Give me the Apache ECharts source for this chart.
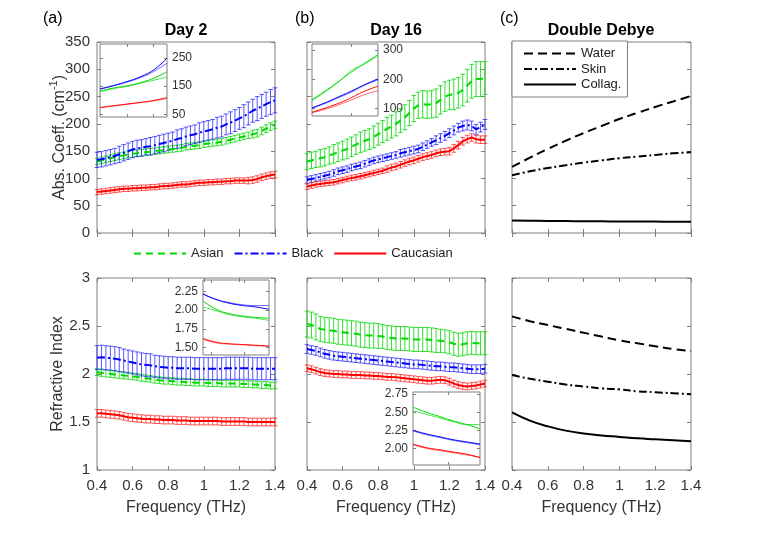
<!DOCTYPE html>
<html><head><meta charset="utf-8">
<script src="https://cdn.jsdelivr.net/npm/echarts@6/dist/echarts.min.js"></script>
<style>html,body{margin:0;padding:0;background:#fff}#c{width:778px;height:541px}</style>
</head><body><div id="c"></div>
<script>
// ---------- data ----------
const freq = [0.4,0.425,0.45,0.475,0.5,0.525,0.55,0.575,0.6,0.625,0.65,0.675,0.7,0.725,0.75,0.775,0.8,0.825,0.85,0.875,0.9,0.925,0.95,0.975,1.0,1.025,1.05,1.075,1.1,1.125,1.15,1.175,1.2,1.225,1.25,1.275,1.3,1.325,1.35,1.375,1.4];
const xTicks = [0.4,0.6,0.8,1,1.2,1.4];
const absTicks = [0,50,100,150,200,250,300,350];
const riTicks = [1,1.5,2,2.5,3];

// Day 2 absorption coefficient (cm^-1)
const d2AbsAsian = [131,133,135,137,139,141,142,144,145,146,147,148,149,150,151,152,153,154,155,156,158,159,160,161,163,164,165,166,167,169,171,173,175,177,179,181,183,187,191,195,198];
const d2AbsAsianErr = [6,6,6,6,6,6,6,6,6,6,6,6,6,6,6,6,6,6,6,6,6,6,6,6,6,6,6,6,6,6,6,6,6,6,6,7,7,7,7,7,7];
const d2AbsBlack = [134,135,137,139,141,144,147,150,153,155,156,158,159,161,163,165,167,169,172,174,177,179,181,184,186,188,190,193,195,199,202,206,210,214,219,224,228,232,236,240,243];
const d2AbsBlackErr = [14,14,14,14,14,15,15,15,15,15,15,15,16,16,16,16,16,16,17,17,17,17,17,18,18,18,18,19,19,19,20,20,20,21,21,21,22,22,22,23,23];
const d2AbsCauc = [75,76,77,78,79,80,81,81,82,82,83,83,84,84,85,86,86,87,88,89,89,90,91,92,92,93,93,94,94,95,95,96,96,96,96,97,99,102,104,106,107];
const d2AbsCaucErr = [5,5,5,5,5,5,5,5,5,5,5,5,5,5,5,5,5,5,5,5,5,5,5,5,5,5,5,5,5,5,5,5,5,5,6,6,6,6,6,6,6];

// Day 16 absorption coefficient (cm^-1)
const d16AbsAsian = [131,133,135,137,139,142,145,148,151,154,158,162,166,169,172,176,181,186,191,195,200,206,212,220,228,234,236,235,236,238,244,250,253,254,257,262,270,278,282,282,284];
const d16AbsAsianErr = [15,15,15,16,16,16,17,17,17,18,18,18,19,19,19,20,20,20,21,21,22,22,23,23,24,24,25,25,25,26,26,27,27,28,28,29,30,31,32,32,30];
const d16AbsBlack = [97,99,101,103,105,107,110,113,115,117,120,122,124,127,130,133,135,137,139,141,143,146,148,150,152,154,158,162,166,170,174,178,183,188,193,196,198,196,190,194,199];
const d16AbsBlackErr = [6,6,6,6,6,6,6,6,6,6,6,6,6,6,6,6,6,6,6,6,6,7,7,7,7,7,7,7,7,8,8,8,8,8,8,9,9,9,9,9,9];
const d16AbsCauc = [85,87,89,90,91,92,93,95,97,99,101,102,104,106,108,110,112,114,117,120,122,125,128,131,133,136,139,141,143,146,148,149,150,155,161,168,172,175,172,171,171];
const d16AbsCaucErr = [5,5,5,5,5,5,5,5,5,5,5,5,5,5,5,5,5,5,6,6,6,6,6,6,6,6,6,6,6,6,6,6,7,7,7,7,7,7,7,7,7];

// Day 2 refractive index
const d2RiAsian = [2.02,2.01,2.005,2.0,1.995,1.99,1.985,1.98,1.975,1.97,1.96,1.955,1.95,1.94,1.935,1.93,1.93,1.925,1.92,1.92,1.915,1.915,1.91,1.91,1.91,1.905,1.905,1.905,1.9,1.9,1.9,1.9,1.9,1.895,1.895,1.89,1.89,1.885,1.885,1.88,1.88];
const d2RiAsianErr = [0.035,0.035,0.035,0.035,0.035,0.035,0.035,0.035,0.035,0.035,0.035,0.035,0.035,0.035,0.035,0.035,0.035,0.035,0.035,0.035,0.035,0.035,0.035,0.035,0.035,0.035,0.035,0.035,0.035,0.035,0.035,0.035,0.035,0.035,0.035,0.035,0.035,0.035,0.035,0.035,0.035];
const d2RiBlack = [2.17,2.175,2.17,2.165,2.16,2.15,2.14,2.13,2.12,2.11,2.1,2.095,2.09,2.08,2.075,2.07,2.065,2.065,2.06,2.06,2.06,2.06,2.055,2.055,2.055,2.055,2.055,2.055,2.055,2.06,2.06,2.06,2.06,2.06,2.06,2.055,2.055,2.055,2.055,2.055,2.055];
const d2RiBlackErr = [0.125,0.125,0.125,0.125,0.125,0.125,0.12,0.12,0.12,0.12,0.12,0.12,0.12,0.115,0.115,0.115,0.115,0.115,0.115,0.115,0.115,0.115,0.115,0.115,0.115,0.115,0.115,0.115,0.115,0.115,0.115,0.115,0.115,0.115,0.115,0.115,0.115,0.115,0.115,0.115,0.115];
const d2RiCauc = [1.59,1.59,1.585,1.58,1.575,1.57,1.56,1.55,1.545,1.54,1.535,1.53,1.53,1.525,1.525,1.52,1.52,1.52,1.515,1.515,1.515,1.51,1.51,1.51,1.51,1.51,1.51,1.51,1.505,1.505,1.505,1.505,1.505,1.505,1.5,1.5,1.5,1.5,1.5,1.5,1.5];
const d2RiCaucErr = [0.04,0.04,0.04,0.04,0.04,0.04,0.04,0.04,0.04,0.04,0.04,0.04,0.04,0.04,0.04,0.04,0.04,0.04,0.04,0.04,0.04,0.04,0.04,0.04,0.04,0.04,0.04,0.04,0.04,0.04,0.04,0.04,0.04,0.04,0.04,0.04,0.04,0.04,0.04,0.04,0.04];

// Day 16 refractive index
const d16RiAsian = [2.52,2.51,2.49,2.47,2.46,2.455,2.45,2.44,2.435,2.43,2.425,2.42,2.41,2.405,2.4,2.4,2.395,2.39,2.38,2.375,2.37,2.37,2.37,2.365,2.36,2.36,2.36,2.36,2.355,2.35,2.345,2.34,2.33,2.315,2.305,2.31,2.32,2.325,2.32,2.32,2.32];
const d16RiAsianErr = [0.135,0.135,0.135,0.13,0.13,0.13,0.13,0.13,0.13,0.13,0.13,0.13,0.13,0.13,0.13,0.13,0.13,0.125,0.125,0.125,0.125,0.125,0.125,0.125,0.125,0.125,0.125,0.125,0.125,0.125,0.12,0.12,0.12,0.12,0.12,0.12,0.12,0.12,0.12,0.12,0.12];
const d16RiBlack = [2.26,2.25,2.24,2.225,2.21,2.2,2.19,2.185,2.18,2.175,2.17,2.165,2.16,2.155,2.15,2.145,2.14,2.135,2.13,2.125,2.12,2.115,2.11,2.105,2.1,2.1,2.095,2.09,2.085,2.08,2.08,2.075,2.07,2.07,2.065,2.06,2.055,2.05,2.05,2.05,2.055];
const d16RiBlackErr = [0.045,0.045,0.045,0.045,0.045,0.045,0.045,0.045,0.045,0.045,0.045,0.045,0.045,0.045,0.045,0.045,0.045,0.045,0.045,0.045,0.045,0.045,0.045,0.045,0.045,0.045,0.045,0.045,0.045,0.045,0.045,0.045,0.045,0.045,0.045,0.045,0.045,0.045,0.045,0.045,0.045];
const d16RiCauc = [2.06,2.05,2.035,2.02,2.01,2.005,2.0,2.0,1.995,1.995,1.99,1.99,1.99,1.985,1.985,1.98,1.98,1.975,1.97,1.97,1.965,1.96,1.955,1.95,1.945,1.94,1.935,1.93,1.93,1.935,1.94,1.935,1.92,1.9,1.885,1.875,1.87,1.875,1.88,1.89,1.9];
const d16RiCaucErr = [0.035,0.035,0.035,0.035,0.035,0.035,0.035,0.035,0.035,0.035,0.035,0.035,0.035,0.035,0.035,0.035,0.035,0.035,0.035,0.035,0.035,0.035,0.035,0.035,0.035,0.035,0.035,0.035,0.035,0.035,0.035,0.035,0.035,0.035,0.035,0.035,0.035,0.035,0.035,0.035,0.035];

// Double Debye model
const ddFreq = [0.4,0.5,0.6,0.7,0.8,0.9,1.0,1.1,1.2,1.3,1.4];
const ddAbsWater = [121,138,154,169,183,196,209,220,231,241,251];
const ddAbsSkin = [106,113,119,124,129,133,137,140,143,146,148];
const ddAbsCollag = [23,22.5,22,22,21.5,21.5,21,21,21,20.5,20.5];
const ddRiWater = [2.6,2.55,2.51,2.47,2.43,2.39,2.35,2.32,2.29,2.26,2.24];
const ddRiSkin = [1.99,1.95,1.92,1.89,1.87,1.85,1.84,1.82,1.81,1.8,1.79];
const ddRiCollag = [1.6,1.515,1.455,1.41,1.38,1.36,1.345,1.33,1.32,1.31,1.3];

// Insets (two repeated measurements per group)
const inFreq = [0.4,0.6,0.8,1.0,1.2,1.4];
const inD2AbsBlack1 = [140,152,166,183,208,249];
const inD2AbsBlack2 = [139,151,164,180,202,232];
const inD2AbsAsian1 = [132,143,151,162,178,201];
const inD2AbsAsian2 = [130,141,149,160,171,182];
const inD2AbsCauc1 = [74,80,86,92,99,109];
const inD2AbsCauc2 = [73,79,85,91,97,106];
const inD2AbsTicks = [50,150,250];

const inD16AbsAsian1 = [130,160,192,225,255,284];
const inD16AbsAsian2 = [127,157,190,230,252,280];
const inD16AbsBlack1 = [103,120,140,160,182,201];
const inD16AbsBlack2 = [101,118,137,157,180,198];
const inD16AbsCauc1 = [88,102,118,138,160,176];
const inD16AbsCauc2 = [86,98,113,130,148,161];
const inD16AbsTicks = [100,200,300];

const inD2RiBlack1 = [2.22,2.14,2.1,2.07,2.06,2.06];
const inD2RiBlack2 = [2.21,2.14,2.09,2.06,2.04,2.01];
const inD2RiAsian1 = [2.12,2.01,1.95,1.92,1.9,1.89];
const inD2RiAsian2 = [2.04,1.99,1.94,1.91,1.89,1.86];
const inD2RiCauc1 = [1.62,1.57,1.55,1.54,1.53,1.52];
const inD2RiCauc2 = [1.61,1.56,1.545,1.535,1.525,1.515];
const inD2RiTicks = [1.5,1.75,2.0,2.25];

const inD16RiAsian1 = [2.57,2.5,2.44,2.38,2.33,2.27];
const inD16RiAsian2 = [2.52,2.47,2.42,2.37,2.33,2.33];
const inD16RiBlack1 = [2.25,2.2,2.16,2.12,2.09,2.06];
const inD16RiBlack2 = [2.24,2.19,2.15,2.11,2.08,2.05];
const inD16RiCauc1 = [2.06,2.01,1.98,1.95,1.92,1.87];
const inD16RiCauc2 = [2.05,2.0,1.97,1.94,1.91,1.88];
const inD16RiTicks = [2.0,2.25,2.5,2.75];

// ---------- styling ----------
const FONT = 'Liberation Sans, Arial, Helvetica, sans-serif';
const AX = '#7f7f7f', TXT = '#333333';
const GREEN = '#00d800', BLUE = '#0000ff', RED = '#ff0000';
const ERR = {green:'rgba(0,216,0,0.8)', blue:'rgba(30,30,255,0.75)', red:'rgba(255,30,30,0.75)'};
const DASH = [7,5], DASHDOT = [8,3,2,3];

const grids = [], xAxes = [], yAxes = [], series = [];

function addGrid(g, xc, yc) {
  const gi = grids.length;
  grids.push(Object.assign({show:true, borderColor:AX, borderWidth:1, backgroundColor:'#fff', containLabel:false, outerBoundsMode:'none'}, g));
  const xi = xAxes.length, yi = yAxes.length;
  ['bottom','top'].forEach((pos,k)=>{
    xAxes.push({
      gridIndex:gi, type:'value', position:pos, min:xc.min, max:xc.max, interval:xc.interval,
      axisLine:{show:false}, splitLine:{show:false},
      axisTick:{show:true, inside:true, length:xc.tickLen||4, lineStyle:{color:AX}, customValues:xc.ticks},
      axisLabel:{show: k===0 && !!xc.labels, fontSize:15, color:TXT, fontFamily:FONT, margin:8, customValues:xc.ticks},
      name: (k===0 && xc.name) ? xc.name : '', nameLocation:'middle', nameGap:30, nameMoveOverlap:false,
      nameTextStyle:{fontSize:16, color:TXT, fontFamily:FONT}
    });
  });
  ['left','right'].forEach((pos,k)=>{
    const lblSide = yc.labelSide || 'left';
    yAxes.push({
      gridIndex:gi, type:'value', position:pos, min:yc.min, max:yc.max, interval:yc.interval,
      axisLine:{show:false}, splitLine:{show:false},
      axisTick:{show:true, inside:true, length:yc.tickLen||4, lineStyle:{color:AX}, customValues:yc.ticks},
      axisLabel:{show: !!yc.labels && pos===lblSide, fontSize:yc.fontSize||15, color:TXT, fontFamily:FONT,
        margin:yc.margin||7, customValues:yc.ticks, formatter:yc.formatter},
      name: (k===0 && yc.name) ? yc.name : '', nameLocation:'middle', nameGap:yc.nameGap||31, nameMoveOverlap:false,
      nameTextStyle:{fontSize:16, color:TXT, fontFamily:FONT, rich:{
        a:{fontSize:16, color:TXT, fontFamily:FONT, lineHeight:20, verticalAlign:'bottom'},
        s:{fontSize:11, color:TXT, fontFamily:FONT, lineHeight:20, verticalAlign:'top'}}}
    });
  });
  return {x:xi, y:yi};
}

function pts(xs, ys){ return xs.map((x,i)=>[x, ys[i]]); }
function errPts(xs, ys, es){ return xs.map((x,i)=>[x, ys[i], es[i]]); }

function errSeries(ax, ys, es, color, name){
  series.push({
    type:'custom', name:name, xAxisIndex:ax.x, yAxisIndex:ax.y, silent:true, z:2,
    data: errPts(freq, ys, es), encode:{x:0, y:1},
    renderItem:function(params, api){
      const x = api.value(0), y = api.value(1), e = api.value(2);
      const lo = api.coord([x, y-e]), hi = api.coord([x, y+e]);
      const hw = 2.3;
      const st = {stroke:color, lineWidth:1, fill:null};
      return {type:'group', children:[
        {type:'line', shape:{x1:lo[0], y1:lo[1], x2:hi[0], y2:hi[1]}, style:st},
        {type:'line', shape:{x1:lo[0]-hw, y1:lo[1], x2:lo[0]+hw, y2:lo[1]}, style:st},
        {type:'line', shape:{x1:hi[0]-hw, y1:hi[1], x2:hi[0]+hw, y2:hi[1]}, style:st}
      ]};
    }
  });
}
function lineSeries(ax, name, xs, ys, color, type, width, opts){
  series.push(Object.assign({
    type:'line', name:name, xAxisIndex:ax.x, yAxisIndex:ax.y, data:pts(xs, ys),
    symbol:'none', showSymbol:false, silent:true, z:3, animation:false,
    lineStyle:{color:color, type:type, width:width}, itemStyle:{color:color}
  }, opts||{}));
}

const xMain = {min:0.4, max:1.4, interval:0.2};
const absY = {min:0, max:350, interval:50};
const riY = {min:1, max:3, interval:0.5};

// main panels
const aT = addGrid({left:97, top:42, width:178, height:191}, xMain, Object.assign({labels:true, name:'{a|Abs. Coeff. (cm}{s|-1}{a|)}', nameGap:29}, absY));
const bT = addGrid({left:307, top:42, width:178, height:191}, xMain, absY);
const cT = addGrid({left:512, top:42, width:179, height:191}, xMain, absY);
const aB = addGrid({left:97, top:278, width:178, height:192}, Object.assign({labels:true, name:'Frequency (THz)'}, xMain), Object.assign({labels:true, name:'Refractive Index', nameGap:31}, riY));
const bB = addGrid({left:307, top:278, width:178, height:192}, Object.assign({labels:true, name:'Frequency (THz)'}, xMain), riY);
const cB = addGrid({left:512, top:278, width:179, height:192}, Object.assign({labels:true, name:'Frequency (THz)'}, xMain), riY);

// insets
const iaT = addGrid({left:100, top:44, width:67, height:73}, {min:0.4, max:1.4, ticks:[0.8,1.2], tickLen:3},
  {min:40, max:300, ticks:inD2AbsTicks, labels:true, labelSide:'right', fontSize:12, margin:5, tickLen:3});
const ibT = addGrid({left:312, top:44, width:66, height:72}, {min:0.4, max:1.4, ticks:[1.0], tickLen:3},
  {min:75, max:320, ticks:inD16AbsTicks, labels:true, labelSide:'right', fontSize:12, margin:5, tickLen:3});
const iaB = addGrid({left:203, top:280, width:66, height:75}, {min:0.4, max:1.4, ticks:[0.53,1.03], tickLen:3},
  {min:1.4, max:2.4, ticks:inD2RiTicks, labels:true, labelSide:'left', fontSize:12, margin:5, tickLen:3, formatter:v=>Number(v).toFixed(2)});
const ibB = addGrid({left:413, top:392, width:67, height:73}, {min:0.4, max:1.4, ticks:[0.92], tickLen:3},
  {min:1.77, max:2.78, ticks:inD16RiTicks, labels:true, labelSide:'left', fontSize:12, margin:5, tickLen:3, formatter:v=>Number(v).toFixed(2)});

// panel (a) top
errSeries(aT, d2AbsAsian, d2AbsAsianErr, ERR.green, 'e1');
errSeries(aT, d2AbsBlack, d2AbsBlackErr, ERR.blue, 'e2');
errSeries(aT, d2AbsCauc, d2AbsCaucErr, ERR.red, 'e3');
lineSeries(aT, 'Asian', freq, d2AbsAsian, GREEN, DASH, 2);
lineSeries(aT, 'Black', freq, d2AbsBlack, BLUE, DASHDOT, 2);
lineSeries(aT, 'Caucasian', freq, d2AbsCauc, RED, 'solid', 2);
// panel (b) top
errSeries(bT, d16AbsAsian, d16AbsAsianErr, ERR.green, 'e4');
errSeries(bT, d16AbsBlack, d16AbsBlackErr, ERR.blue, 'e5');
errSeries(bT, d16AbsCauc, d16AbsCaucErr, ERR.red, 'e6');
lineSeries(bT, 'Asian', freq, d16AbsAsian, GREEN, DASH, 2);
lineSeries(bT, 'Black', freq, d16AbsBlack, BLUE, DASHDOT, 2);
lineSeries(bT, 'Caucasian', freq, d16AbsCauc, RED, 'solid', 2);
// panel (a) bottom
errSeries(aB, d2RiAsian, d2RiAsianErr, ERR.green, 'e7');
errSeries(aB, d2RiBlack, d2RiBlackErr, ERR.blue, 'e8');
errSeries(aB, d2RiCauc, d2RiCaucErr, ERR.red, 'e9');
lineSeries(aB, 'Asian', freq, d2RiAsian, GREEN, DASH, 2);
lineSeries(aB, 'Black', freq, d2RiBlack, BLUE, DASHDOT, 2);
lineSeries(aB, 'Caucasian', freq, d2RiCauc, RED, 'solid', 2);
// panel (b) bottom
errSeries(bB, d16RiAsian, d16RiAsianErr, ERR.green, 'e10');
errSeries(bB, d16RiBlack, d16RiBlackErr, ERR.blue, 'e11');
errSeries(bB, d16RiCauc, d16RiCaucErr, ERR.red, 'e12');
lineSeries(bB, 'Asian', freq, d16RiAsian, GREEN, DASH, 2);
lineSeries(bB, 'Black', freq, d16RiBlack, BLUE, DASHDOT, 2);
lineSeries(bB, 'Caucasian', freq, d16RiCauc, RED, 'solid', 2);
// panel (c)
lineSeries(cT, 'Water', ddFreq, ddAbsWater, '#000', [9,5], 2, {smooth:true});
lineSeries(cT, 'Skin', ddFreq, ddAbsSkin, '#000', [8,3,2,3], 2, {smooth:true});
lineSeries(cT, 'Collag.', ddFreq, ddAbsCollag, '#000', 'solid', 2, {smooth:true});
lineSeries(cB, 'Water', ddFreq, ddRiWater, '#000', [9,5], 2, {smooth:true});
lineSeries(cB, 'Skin', ddFreq, ddRiSkin, '#000', [8,3,2,3], 2, {smooth:true});
lineSeries(cB, 'Collag.', ddFreq, ddRiCollag, '#000', 'solid', 2, {smooth:true});
// insets
function inset(ax, arrs){
  arrs.forEach(([ys,c,o],i)=>lineSeries(ax, 'in'+series.length, inFreq, ys, c, 'solid', 1, {smooth:true, lineStyle:{color:c, width:1, opacity:o}}));
}
inset(iaT, [[inD2AbsBlack1,BLUE,1],[inD2AbsBlack2,BLUE,0.6],[inD2AbsAsian1,GREEN,1],[inD2AbsAsian2,GREEN,0.7],[inD2AbsCauc1,RED,1],[inD2AbsCauc2,RED,0.5]]);
inset(ibT, [[inD16AbsAsian1,GREEN,1],[inD16AbsAsian2,GREEN,0.6],[inD16AbsBlack1,BLUE,1],[inD16AbsBlack2,BLUE,0.6],[inD16AbsCauc1,RED,1],[inD16AbsCauc2,RED,0.6]]);
inset(iaB, [[inD2RiBlack1,BLUE,0.6],[inD2RiBlack2,BLUE,1],[inD2RiAsian1,GREEN,1],[inD2RiAsian2,GREEN,0.7],[inD2RiCauc1,RED,1],[inD2RiCauc2,RED,0.5]]);
inset(ibB, [[inD16RiAsian1,GREEN,1],[inD16RiAsian2,GREEN,0.7],[inD16RiBlack1,BLUE,1],[inD16RiBlack2,BLUE,0.6],[inD16RiCauc1,RED,1],[inD16RiCauc2,RED,0.6]]);

const titleStyle = {fontSize:16, fontWeight:'bold', color:'#000', fontFamily:FONT};
const tagStyle = {fontSize:16, fontWeight:'normal', color:'#000', fontFamily:FONT};
const hiddenSymbol = {color:'rgba(0,0,0,0)', borderColor:'rgba(0,0,0,0)', borderWidth:0, opacity:0};
const option = {
  animation:false,
  backgroundColor:'#fff',
  textStyle:{fontFamily:FONT},
  title:[
    {text:'Day 2', left:186, top:23, textAlign:'center', textStyle:titleStyle, padding:0},
    {text:'Day 16', left:396, top:23, textAlign:'center', textStyle:titleStyle, padding:0},
    {text:'Double Debye', left:601, top:23, textAlign:'center', textStyle:titleStyle, padding:0},
    {text:'(a)', left:43, top:11, textStyle:tagStyle, padding:0},
    {text:'(b)', left:295, top:11, textStyle:tagStyle, padding:0},
    {text:'(c)', left:500, top:11, textStyle:tagStyle, padding:0}
  ],
  legend:[
    {data:['Asian','Black','Caucasian'], left:133, top:247, itemWidth:52, itemHeight:14, itemGap:10,
     itemStyle:hiddenSymbol,
     textStyle:{fontSize:13, color:'#222', fontFamily:FONT}, selectedMode:false, padding:0},
    {data:['Water','Skin','Collag.'], orient:'vertical', left:512, top:41, itemWidth:52, itemHeight:14, itemGap:2.5,
     itemStyle:hiddenSymbol,
     padding:[6,6,6,11], borderColor:AX, borderWidth:1, backgroundColor:'#fff',
     textStyle:{fontSize:13, color:'#222', fontFamily:FONT}, selectedMode:false}
  ],
  grid:grids, xAxis:xAxes, yAxis:yAxes, series:series
};
const chart = echarts.init(document.getElementById('c'), null, {renderer:'canvas'});
chart.setOption(option);
</script></body></html>
